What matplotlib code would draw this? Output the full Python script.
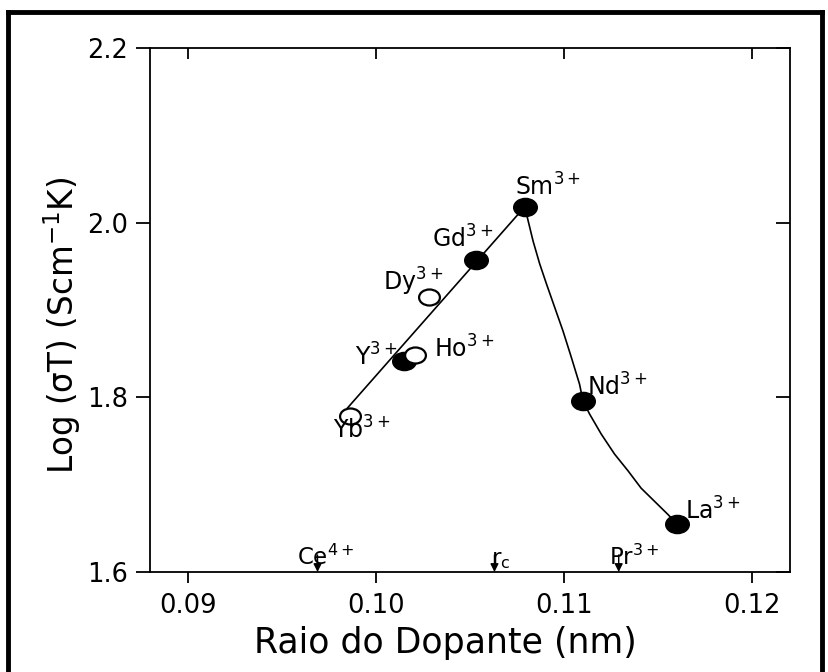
import numpy as np
import matplotlib.pyplot as plt
from matplotlib.path import Path
from matplotlib.markers import MarkerStyle
from matplotlib.transforms import Affine2D
from matplotlib.lines import Line2D

plt.rcParams['font.family'] = ['DejaVu Sans']
plt.rcParams['mathtext.fontset'] = 'dejavusans'
plt.rcParams['mathtext.default'] = 'regular'

# Dados (raio em nm, log(sigma T))
ions_cheio = ['Sm', 'Gd', 'Y', 'Nd', 'La']
x_cheio = [0.1079, 0.1053, 0.1015, 0.1110, 0.1160]
y_cheio = [2.018, 1.957, 1.842, 1.796, 1.655]

ions_aberto = ['Dy', 'Ho', 'Yb']
x_aberto = [0.1028, 0.1021, 0.0986]
y_aberto = [1.915, 1.849, 1.779]

# reta (lado esquerdo) e curva (lado direito)
reta_x = [0.0985, 0.1079]
reta_y = [1.788, 2.018]
curva_x = [0.1079, 0.10800, 0.10835, 0.10870, 0.10906, 0.10950, 0.10994, 0.11038,
           0.11082, 0.1110, 0.11135, 0.11197, 0.11268, 0.11339, 0.11409, 0.11480,
           0.11551, 0.1160]
curva_y = [2.018, 2.010, 1.979, 1.953, 1.930, 1.903, 1.876, 1.846,
           1.815, 1.796, 1.781, 1.758, 1.735, 1.716, 1.696, 1.681,
           1.666, 1.655]

# rótulos dos íons
rot_txt = ['Sm', 'Gd', 'Dy', 'Y', 'Ho', 'Yb', 'Nd', 'La']
rot_x = [0.1074, 0.1030, 0.1004, 0.0989, 0.1031, 0.0977, 0.1112, 0.1164]
rot_y = [2.031, 1.971, 1.922, 1.836, 1.846, 1.753, 1.802, 1.660]

# setas no eixo x
setas_x = [0.0969, 0.1063, 0.1129]
setas_txt = ['Ce$^{4+}$', 'r$_{c}$', 'Pr$^{3+}$']
setas_dx = [-0.0011, -0.0002, -0.0005]

fig = plt.figure(figsize=(8.29, 6.72), dpi=100)
ax = fig.add_axes([150/829, 1 - 572/672, 640/829, 524/672])

elipse = Path.unit_circle().transformed(Affine2D().scale(1.3, 1.0))
mk = MarkerStyle(elipse)

ax.plot(reta_x, reta_y, color='black', lw=1.2, zorder=2)
ax.plot(curva_x, curva_y, color='black', lw=1.2, zorder=2)
ax.plot(x_cheio, y_cheio, linestyle='none', marker=mk, ms=17,
        mfc='black', mec='black', zorder=3)
ax.plot(x_aberto, y_aberto, linestyle='none', marker=mk, ms=15,
        mfc='white', mec='black', mew=1.6, zorder=3)

for t, xx, yy in zip(rot_txt, rot_x, rot_y):
    ax.text(xx, yy, t + '$^{3+}$', fontsize=17, ha='left', va='baseline', zorder=4)

for xx, t, d in zip(setas_x, setas_txt, setas_dx):
    ax.annotate('', xy=(xx, 1.6), xytext=(xx, 1.6195),
                arrowprops=dict(arrowstyle='-|>', color='black', lw=1,
                                mutation_scale=12, shrinkA=0, shrinkB=0))
    ax.text(xx + d, 1.6084, t, fontsize=16.5, ha='left', va='baseline')

ax.set_xlim(0.0880, 0.1220)
ax.set_ylim(1.6, 2.2)
ax.set_xticks([0.09, 0.10, 0.11, 0.12])
ax.set_xticklabels(['0.09', '0.10', '0.11', '0.12'])
ax.set_yticks([1.6, 1.8, 2.0, 2.2])
ax.set_yticklabels(['1.6', '1.8', '2.0', '2.2'])
ax.tick_params(axis='x', labelsize=18.5, length=8, width=1.3, direction='out', pad=7)
ax.tick_params(axis='y', labelsize=18.5, length=10, width=1.3, direction='out', pad=6)
ax.tick_params(top=True, right=True)
# ticks de cima e da direita para dentro
for tl in ax.xaxis.get_ticklines()[1::2]:
    tl.set_marker(3)
for tl in ax.yaxis.get_ticklines()[1::2]:
    tl.set_marker(0)
for s in ax.spines.values():
    s.set_linewidth(1.3)

ax.set_xlabel('Raio do Dopante (nm)', fontsize=25)
ax.xaxis.set_label_coords((445 - 150) / 640, -(653 - 572) / 524, transform=ax.transAxes)
ax.xaxis.label.set_va('baseline')
ax.set_ylabel('Log (σT) (Scm$^{-1}$K)', fontsize=23.5)
ax.yaxis.set_label_coords(-(150 - 62) / 640, (572 - 325) / 524, transform=ax.transAxes)
ax.yaxis.label.set_va('center')

# moldura externa
for xs, ys in [([8/829, 8/829], [0, 1 - 12/672]),
               ([8/829, 822/829], [1 - 12/672, 1 - 12/672]),
               ([822/829, 822/829], [1 - 12/672, 0])]:
    fig.add_artist(Line2D(xs, ys, color='black', lw=3.5, solid_capstyle='projecting'))

fig.savefig('out.png', dpi=100)
